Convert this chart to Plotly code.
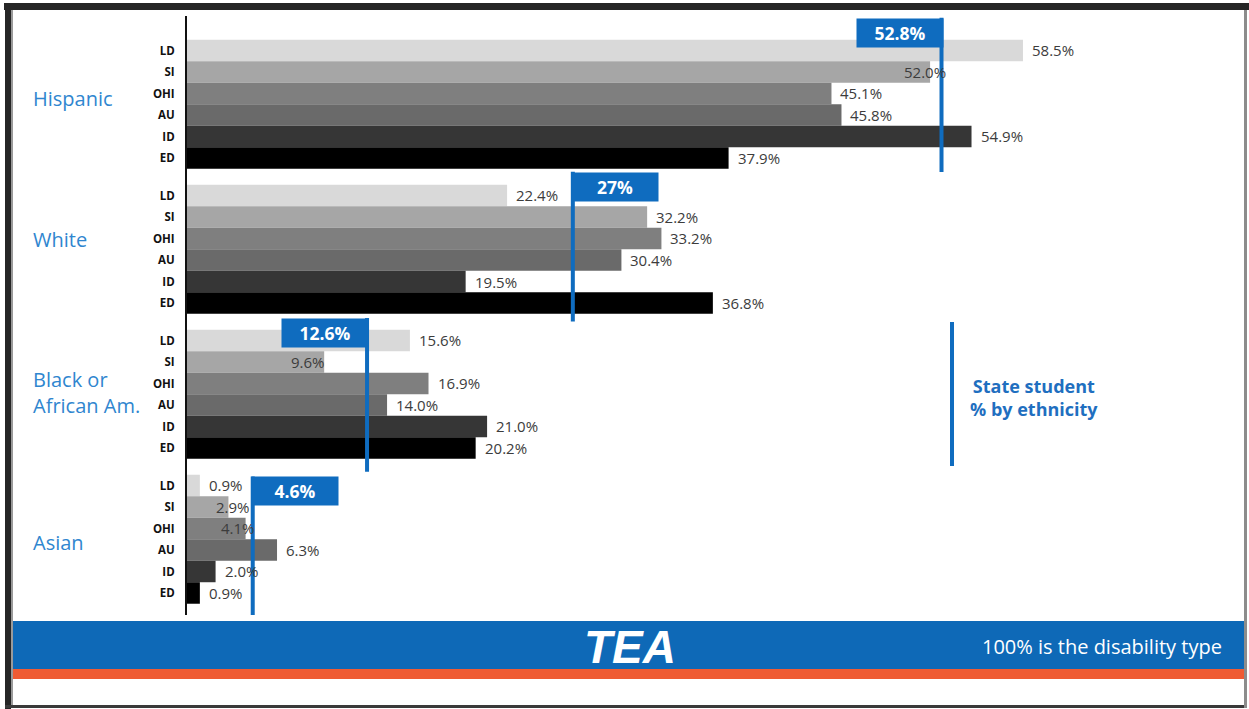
import plotly.graph_objects as go

# ---- data -------------------------------------------------------------
groups = ["Hispanic", "White", "Black or<br>African Am.", "Asian"]
disabilities = ["LD", "SI", "OHI", "AU", "ID", "ED"]
hispanic = [58.5, 52.0, 45.1, 45.8, 54.9, 37.9]
white = [22.4, 32.2, 33.2, 30.4, 19.5, 36.8]
black = [15.6, 9.6, 16.9, 14.0, 21.0, 20.2]
asian = [0.9, 2.9, 4.1, 6.3, 2.0, 0.9]
state_share = [52.8, 27.0, 12.6, 4.6]
state_labels = ["52.8%", "27%", "12.6%", "4.6%"]

values_by_group = [hispanic, white, black, asian]

# ---- styling ----------------------------------------------------------
W, H = 1249, 709
BLUE = "#0f6cbf"
LABEL_BLUE = "#2f86cf"
ORANGE = "#ef5b33"
bar_colors = ["#d9d9d9", "#a6a6a6", "#7f7f7f", "#6a6a6a", "#363636", "#000000"]
GROUP_PITCH = 6.744          # rows from one ethnicity block to the next
ROW_PX = 21.5
FONT = "Open Sans"


def px(x):
    return x / W


def py(y):
    return 1 - y / H


def row_pos(g, i):
    return g * GROUP_PITCH + i


fig = go.Figure()

for i, dis in enumerate(disabilities):
    fig.add_trace(go.Bar(
        orientation="h",
        x=[vals[i] for vals in values_by_group],
        y=[row_pos(g, i) for g in range(len(groups))],
        width=1.0,
        marker=dict(color=bar_colors[i], line=dict(width=0)),
        name=dis,
        showlegend=False,
        hoverinfo="x",
    ))

annotations = []
shapes = []

# value labels beside each bar (a few nudged to sit clear of neighbours)
label_nudge = {(0, 1): -35, (2, 1): -42, (3, 1): -21, (3, 2): -34}
for g, vals in enumerate(values_by_group):
    for i, v in enumerate(vals):
        annotations.append(dict(
            x=v, y=row_pos(g, i), xref="x", yref="y",
            text=f"{v:.1f}%", showarrow=False,
            xanchor="left", yanchor="middle",
            xshift=7 + label_nudge.get((g, i), 0),
            font=dict(family=FONT, size=15, color="#3c3c3c"),
        ))

# ethnicity labels on the left
group_yshift = [6, 10, 2, -3]
for g, name in enumerate(groups):
    annotations.append(dict(
        x=px(31), y=row_pos(g, 2.5), xref="paper", yref="y",
        text=name, showarrow=False, xanchor="left", yanchor="middle",
        align="left", yshift=group_yshift[g],
        font=dict(family=FONT, size=20, color=LABEL_BLUE),
    ))

# state-share callouts: flag box + vertical marker line
box_top = [-1.52, -1.10, -1.05, -0.42]
line_tail = [0.65, 0.86, 1.10, 1.03]
box_side = ["right", "left", "right", "left"]
for g, (v, lab) in enumerate(zip(state_share, state_labels)):
    top = row_pos(g, 0) + box_top[g]
    bottom = row_pos(g, 5) + line_tail[g]
    shapes.append(dict(
        type="line", xref="x", yref="y", x0=v, x1=v, y0=top, y1=bottom,
        line=dict(color=BLUE, width=4), layer="above",
    ))
    annotations.append(dict(
        x=v, y=top, xref="x", yref="y", text=f"<b>{lab}</b>",
        showarrow=False, xanchor=box_side[g], yanchor="top",
        xshift=2 if box_side[g] == "right" else -2,
        width=86, height=28, bgcolor=BLUE, borderpad=0,
        font=dict(family=FONT, size=17.5, color="white"),
    ))

# key for the callout lines
shapes.append(dict(type="line", xref="paper", yref="paper",
                   x0=px(952), x1=px(952), y0=py(322), y1=py(466),
                   line=dict(color=BLUE, width=4)))
annotations.append(dict(
    x=px(1034), y=py(397), xref="paper", yref="paper",
    text="<b>State student<br>% by ethnicity</b>", showarrow=False,
    xanchor="center", yanchor="middle", align="center",
    font=dict(family=FONT, size=18, color="#1f6fc0"),
))

# footer band
shapes.append(dict(type="rect", xref="paper", yref="paper",
                   x0=px(11), x1=px(1245), y0=py(669), y1=py(621),
                   fillcolor="#0e69b7", line=dict(width=0), layer="below"))
shapes.append(dict(type="rect", xref="paper", yref="paper",
                   x0=px(11), x1=px(1245), y0=py(679), y1=py(669),
                   fillcolor=ORANGE, line=dict(width=0), layer="below"))
annotations.append(dict(
    x=px(630), y=py(647), xref="paper", yref="paper", text="TEA",
    showarrow=False, xanchor="center", yanchor="middle",
    font=dict(family="Liberation Sans", size=46, color="white",
              weight=900, style="italic"),
))
annotations.append(dict(
    x=px(1224), y=py(646), xref="paper", yref="paper",
    text="100% is the disability type", showarrow=False,
    xanchor="right", yanchor="middle",
    font=dict(family=FONT, size=20, color="white"),
))

# slide frame
shapes += [
    dict(type="rect", xref="paper", yref="paper", x0=px(4), x1=px(1249),
         y0=py(10), y1=py(3), fillcolor="#262626", line=dict(width=0)),
    dict(type="rect", xref="paper", yref="paper", x0=px(5), x1=px(11),
         y0=py(709), y1=py(3), fillcolor="#262626", line=dict(width=0)),
    dict(type="rect", xref="paper", yref="paper", x0=px(11), x1=px(13),
         y0=py(706), y1=py(10), fillcolor="#9a9a9a", line=dict(width=0)),
    dict(type="rect", xref="paper", yref="paper", x0=px(5), x1=px(1247),
         y0=py(708), y1=py(705), fillcolor="#3a3a3a", line=dict(width=0)),
    dict(type="rect", xref="paper", yref="paper", x0=px(1244), x1=px(1247),
         y0=py(708), y1=py(10), fillcolor="#8c8c8c", line=dict(width=0)),
]

tick_vals = [row_pos(g, i) for g in range(len(groups)) for i in range(len(disabilities))]
tick_text = disabilities * len(groups)

PX_PER_PCT = 14.29
TOP_PX, BOTTOM_PX, FIRST_ROW_PX = 16, 615, 50.5
fig.update_layout(
    width=W, height=H,
    margin=dict(l=0, r=0, t=0, b=0),
    paper_bgcolor="white", plot_bgcolor="white",
    barmode="overlay",
    xaxis=dict(domain=[px(187), 1], range=[0, (W - 187) / PX_PER_PCT],
               visible=False, fixedrange=True),
    yaxis=dict(domain=[py(BOTTOM_PX), py(TOP_PX)],
               range=[(BOTTOM_PX - FIRST_ROW_PX) / ROW_PX,
                      (TOP_PX - FIRST_ROW_PX) / ROW_PX],
               tickmode="array", tickvals=tick_vals, ticktext=tick_text,
               showgrid=False, zeroline=False,
               showline=True, linecolor="#111111", linewidth=2,
               ticks="", ticklabelstandoff=8,
               tickfont=dict(family=FONT, size=11.5, color="#111111", weight=700),
               fixedrange=True),
    annotations=annotations,
    shapes=shapes,
    showlegend=False,
)

fig.write_html("out.html")
